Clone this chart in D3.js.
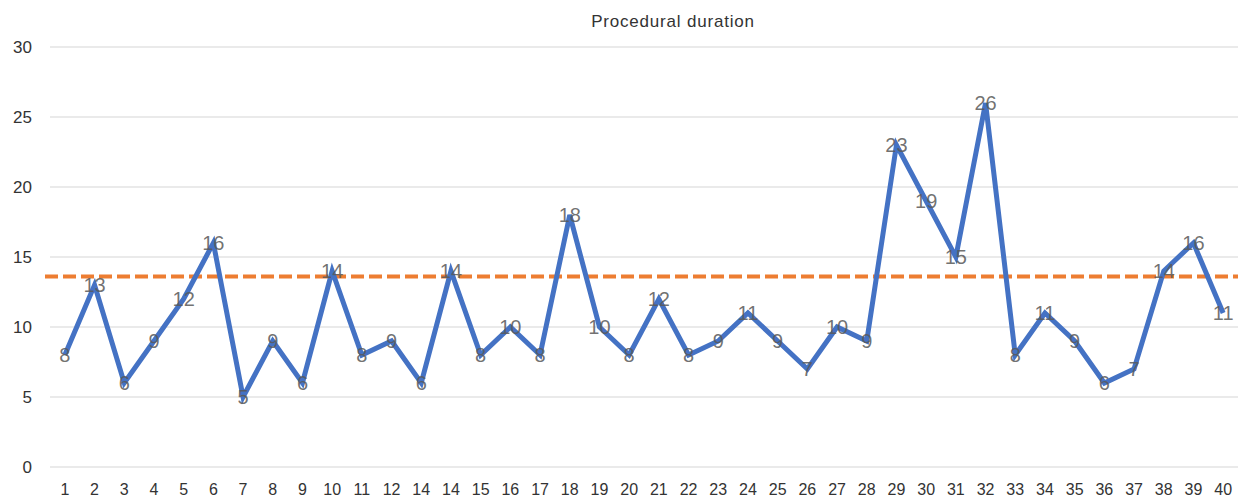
<!DOCTYPE html>
<html>
<head>
<meta charset="utf-8">
<script src="https://cdn.jsdelivr.net/npm/d3@7"></script>
<style>
  body { margin: 0; background: #fff; }
  svg { display: block; font-family: "Liberation Sans", Arial, Helvetica, sans-serif; }
</style>
</head>
<body>
<svg id="chart" width="1238" height="498"></svg>
<script>
// category labels as printed on the x axis (note the repeated "14")
const caseLabels = ["1","2","3","4","5","6","7","8","9","10","11","12","14","14","15","16","17","18","19","20",
    "21","22","23","24","25","26","27","28","29","30","31","32","33","34","35","36","37","38","39","40"];
const durations = [8,13,6,9,12,16,5,9,6,14,8,9,6,14,8,10,8,18,10,8,
    12,8,9,11,9,7,10,9,23,19,15,26,8,11,9,6,7,14,16,11];
const yTicks = [0,5,10,15,20,25,30];
const refLine = 13.6;

const W = 1238, H = 498;
const margin = { top: 47, right: 0, bottom: 31, left: 50 };

const svg = d3.select("#chart");

const x = d3.scaleBand()
    .domain(d3.range(caseLabels.length))
    .range([margin.left, W - margin.right]);

const y = d3.scaleLinear()
    .domain([0, 30])
    .range([H - margin.bottom, margin.top]);

// gridlines
svg.append("g")
    .selectAll("line")
    .data(yTicks)
    .enter()
    .append("line")
    .attr("x1", margin.left)
    .attr("x2", W - margin.right)
    .attr("y1", d => y(d))
    .attr("y2", d => y(d))
    .attr("stroke", "#e3e3e3")
    .attr("stroke-width", 1.3);

// y labels
svg.append("g")
    .selectAll("text")
    .data(yTicks)
    .enter()
    .append("text")
    .attr("x", 32)
    .attr("y", d => y(d))
    .attr("dy", "0.35em")
    .attr("text-anchor", "end")
    .attr("font-size", 17)
    .attr("fill", "#333")
    .text(d => d);

// x labels
svg.append("g")
    .selectAll("text")
    .data(caseLabels)
    .enter()
    .append("text")
    .attr("x", (d, i) => x(i) + x.bandwidth() / 2)
    .attr("y", 489)
    .attr("dy", "0.35em")
    .attr("text-anchor", "middle")
    .attr("font-size", 16)
    .attr("fill", "#333")
    .text(d => d);

// title
svg.append("text")
    .attr("x", 673)
    .attr("y", 21)
    .attr("dy", "0.35em")
    .attr("text-anchor", "middle")
    .attr("font-size", 17)
    .attr("letter-spacing", 0.8)
    .attr("fill", "#333")
    .text("Procedural duration");

// dashed reference line
svg.append("line")
    .attr("x1", 45)
    .attr("x2", W)
    .attr("y1", y(refLine))
    .attr("y2", y(refLine))
    .attr("stroke", "#ED7D31")
    .attr("stroke-width", 4)
    .attr("stroke-dasharray", "13,5");

// main series
const line = d3.line()
    .x((d, i) => x(i) + x.bandwidth() / 2)
    .y(d => y(d));

svg.append("path")
    .datum(durations)
    .attr("fill", "none")
    .attr("stroke", "#4472C4")
    .attr("stroke-width", 5)
    .attr("stroke-linejoin", "miter")
    .attr("d", line);

// data labels, centred on the points
svg.append("g")
    .selectAll("text")
    .data(durations)
    .enter()
    .append("text")
    .attr("x", (d, i) => x(i) + x.bandwidth() / 2)
    .attr("y", d => y(d))
    .attr("dy", "0.36em")
    .attr("text-anchor", "middle")
    .attr("font-size", 20)
    .attr("fill", "#595959")
    .attr("fill-opacity", 0.85)
    .text(d => d);
</script>
</body>
</html>
